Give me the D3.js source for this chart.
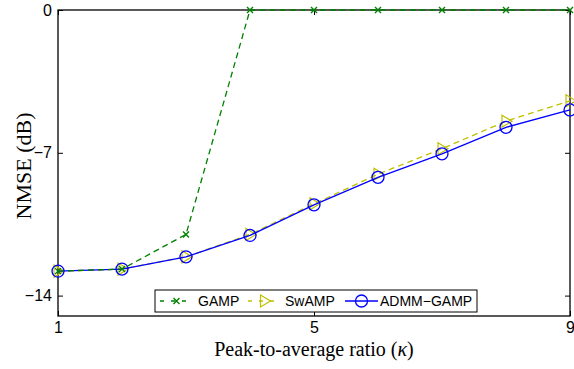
<!DOCTYPE html>
<html>
<head>
<meta charset="utf-8">
<script src="https://d3js.org/d3.v7.min.js"></script>
<style>
body { margin: 0; background: #fff; }
</style>
</head>
<body>
<div id="chart"></div>
<script>
// data
let kappa = [1, 2, 3, 4, 5, 6, 7, 8, 9];
let gamp = [-12.8, -12.7, -11.0, 0, 0, 0, 0, 0, 0];
let swamp = [-12.8, -12.7, -12.1, -11.0, -9.5, -8.05, -6.8, -5.45, -4.45];
let admm = [-12.8, -12.7, -12.1, -11.05, -9.55, -8.2, -7.05, -5.75, -4.9];
let xTicks = [1, 5, 9];
let yTicks = [0, -7, -14];

let margin = {top: 10, right: 4, bottom: 53, left: 58};
let w = 574 - margin.left - margin.right;
let h = 369 - margin.top - margin.bottom;

let svg = d3.select("#chart").append("svg")
    .attr("width", 574).attr("height", 369)
  .append("g")
    .attr("transform", "translate(" + margin.left + "," + margin.top + ")");

let xScale = d3.scaleLinear().domain([1, 9]).range([0, 512]);
let yScale = d3.scaleLinear().domain([-15, 0]).range([h, 0]);

// box with inward ticks (matlab style)
let tickFont = "'Liberation Sans', Arial, sans-serif";
let serif = "'Liberation Serif', 'DejaVu Serif', serif";
svg.append("g")
    .attr("transform", "translate(0," + h + ")")
    .call(d3.axisBottom(xScale).tickValues(xTicks).tickSize(-5).tickPadding(6).tickFormat(d3.format("d")))
    .call(g => g.select(".domain").remove());
svg.append("g")
    .call(d3.axisLeft(yScale).tickValues(yTicks).tickSize(-5).tickPadding(6).tickFormat(d => d < 0 ? "\u2212" + Math.abs(d) : d))
    .call(g => g.select(".domain").remove());
svg.append("g")
    .attr("transform", "translate(" + xScale(9) + ",0)")
    .call(d3.axisRight(yScale).tickValues(yTicks).tickSize(-5).tickFormat(""))
    .call(g => g.select(".domain").remove());
svg.append("g")
    .call(d3.axisTop(xScale).tickValues(xTicks).tickSize(-5).tickFormat(""))
    .call(g => g.select(".domain").remove());
svg.selectAll(".tick text").attr("font-family", tickFont).attr("font-size", "16px").attr("fill", "#000");
svg.selectAll(".tick line").attr("stroke", "#000");

svg.append("rect")
    .attr("x", 0).attr("y", 0)
    .attr("width", xScale(9)).attr("height", h)
    .attr("fill", "none").attr("stroke", "#000").attr("stroke-width", 1.3);

let line = d3.line().x(d => xScale(d[0])).y(d => yScale(d[1]));

let series = [
  {name: "SwAMP", values: swamp, color: "#bfbf00", dash: "6,4", marker: "tri"},
  {name: "ADMM\u2212GAMP", values: admm, color: "#0000ff", dash: null, marker: "circle"},
  {name: "GAMP", values: gamp, color: "#008000", dash: "6,4", marker: "x"}
];

function drawMarker(g, type, color) {
  if (type === "circle") {
    g.append("circle").attr("r", 6).attr("fill", "none").attr("stroke", color).attr("stroke-width", 1.3);
  } else if (type === "tri") {
    g.append("path").attr("d", "M-4,-6L6,0L-4,6Z").attr("fill", "none").attr("stroke", color).attr("stroke-width", 1.2);
  } else {
    g.append("path").attr("d", "M-3,-3L3,3M-3,3L3,-3").attr("stroke", color).attr("stroke-width", 1.4);
  }
}

series.forEach(s => {
  let pts = kappa.map((k, i) => [k, s.values[i]]);
  svg.append("path")
      .attr("d", line(pts))
      .attr("fill", "none")
      .attr("stroke", s.color)
      .attr("stroke-width", 1.3)
      .attr("stroke-dasharray", s.dash);
  pts.forEach(p => {
    let g = svg.append("g").attr("transform", "translate(" + xScale(p[0]) + "," + yScale(p[1]) + ")");
    drawMarker(g, s.marker, s.color);
  });
});

// legend
let legend = svg.append("g").attr("transform", "translate(97,280)");
legend.append("rect")
    .attr("width", 322).attr("height", 22)
    .attr("fill", "#fff").attr("stroke", "#000").attr("stroke-width", 1);
let items = [
  {name: "GAMP", color: "#008000", dash: "4,7", marker: "x", x: 5, tx: 43},
  {name: "SwAMP", color: "#bfbf00", dash: "4,7", marker: "tri", x: 93, tx: 130},
  {name: "ADMM\u2212GAMP", color: "#0000ff", dash: null, marker: "circle", x: 190, tx: 225}
];
items.forEach(it => {
  legend.append("line")
      .attr("x1", it.x).attr("x2", it.x + 33)
      .attr("y1", 11).attr("y2", 11)
      .attr("stroke", it.color).attr("stroke-width", 1.3)
      .attr("stroke-dasharray", it.dash);
  let g = legend.append("g").attr("transform", "translate(" + (it.x + 16.5) + ",11)");
  drawMarker(g, it.marker, it.color);
  legend.append("text")
      .attr("x", it.tx).attr("y", 16)
      .attr("font-family", tickFont).attr("font-size", "14px")
      .text(it.name);
});

// axis titles
svg.append("text")
    .attr("x", 256).attr("y", h + 40)
    .attr("text-anchor", "middle")
    .attr("font-family", serif)
    .attr("font-size", "20px")
    .html("Peak-to-average ratio (<tspan font-style='italic'>\u03ba</tspan>)");
svg.append("text")
    .attr("transform", "rotate(-90)")
    .attr("x", -156).attr("y", -27)
    .attr("text-anchor", "middle")
    .attr("font-family", serif)
    .attr("font-size", "22px")
    .text("NMSE (dB)");
</script>
</body>
</html>
